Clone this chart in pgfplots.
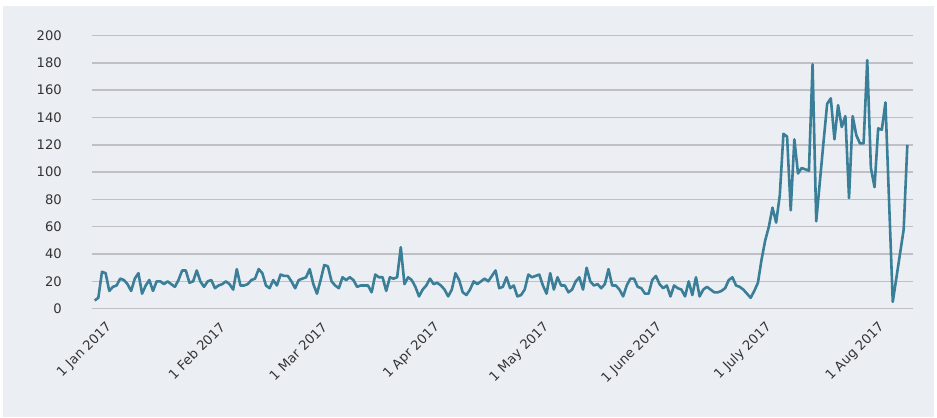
\documentclass[border=0pt]{standalone}
\usepackage{pgfplots}
\pgfplotsset{compat=1.18}
\usepackage{pgfplotstable}
\usepackage{fontspec}
\setmainfont{DejaVu Sans}
\definecolor{bg}{HTML}{EBEFF4}
\definecolor{lc}{HTML}{3A7E98}
\definecolor{gc}{HTML}{C0BFC5}
\definecolor{txt}{HTML}{333333}
\pgfplotstableread{
day val
0 6
1 8
2 27
3 26
4 13
5 16
6 17
7 22
8 21
9 18
10 13
11 22
12 26
13 11
14 17
15 21
16 13
17 20
18 20
19 18
20 20
21 18
22 16
23 21
24 28
25 28
26 19
27 20
28 28
29 20
30 16
31 20
32 21
33 15
34 17
35 18
36 20
37 18
38 14
39 29
40 17
41 17
42 18
43 21
44 22
45 29
46 26
47 17
48 15
49 21
50 17
51 25
52 24
53 24
54 20
55 15
56 21
57 22
58 23
59 29
60 18
61 11
62 21
63 32
64 31
65 20
66 17
67 15
68 23
69 21
70 23
71 21
72 16
73 17
74 17
75 17
76 12
77 25
78 23
79 23
80 13
81 23
82 22
83 23
84 45
85 18
86 23
87 21
88 16
89 9
90 14
91 17
92 22
93 18
94 19
95 17
96 14
97 9
98 14
99 26
100 21
101 12
102 10
103 14
104 20
105 18
106 20
107 22
108 20
109 24
110 28
111 15
112 16
113 23
114 15
115 17
116 9
117 10
118 14
119 25
120 23
121 24
122 25
123 17
124 11
125 26
126 14
127 23
128 17
129 17
130 12
131 14
132 20
133 23
134 14
135 30
136 20
137 17
138 18
139 15
140 18
141 29
142 17
143 17
144 14
145 9
146 17
147 22
148 22
149 16
150 15
151 11
152 11
153 21
154 24
155 18
156 15
157 17
158 9
159 17
160 15
161 14
162 9
163 20
164 10
165 23
166 9
167 14
168 16
169 14
170 12
171 12
172 13
173 15
174 21
175 23
176 17
177 16
178 14
179 11
180 8
181 13
182 19
183 36
184 50
185 60
186 74
187 63
188 83
189 128
190 126
191 72
192 124
193 99
194 103
195 102
196 101
197 179
198 64
199 93
200 122
201 150
202 154
203 124
204 149
205 133
206 141
207 81
208 141
209 127
210 121
211 121
212 182
213 103
214 89
215 132
216 131
217 151
219 5
222 58
223 120
}\datatable
\begin{document}
\begin{tikzpicture}[x=1bp,y=1bp]
\fill[white] (0,0) rectangle (937,417);
\fill[bg] (3,0) rectangle (934,411);
\begin{axis}[
  at={(92bp,108.3bp)}, anchor=south west,
  scale only axis, width=821bp, height=273.2bp,
  xmin=-0.74, xmax=224.56, ymin=0, ymax=200,
  axis line style={draw=none},
  major tick length=0pt,
  ytick={0,20,...,200},
  ymajorgrids,
  grid style={gc, line width=1.5bp},
  xtick={0,31,59,90,120,151,181,212},
  xticklabels={1 Jan 2017,1 Feb 2017,1 Mar 2017,1 Apr 2017,1 May 2017,1 June 2017,1 July 2017,1 Aug 2017},
  /pgf/number format/assume math mode=true,
  ticklabel style={font=\fontsize{13.2}{16}\selectfont, text=txt, inner sep=0pt},
  yticklabel style={anchor=east, xshift=-30bp},
  xticklabel style={xshift=15bp, yshift=-16bp, rotate=45, anchor=east},
]
\addplot[lc, line width=2.6bp, line join=round, mark=none] table[x=day,y=val]{\datatable};
\end{axis}
\end{tikzpicture}
\end{document}
